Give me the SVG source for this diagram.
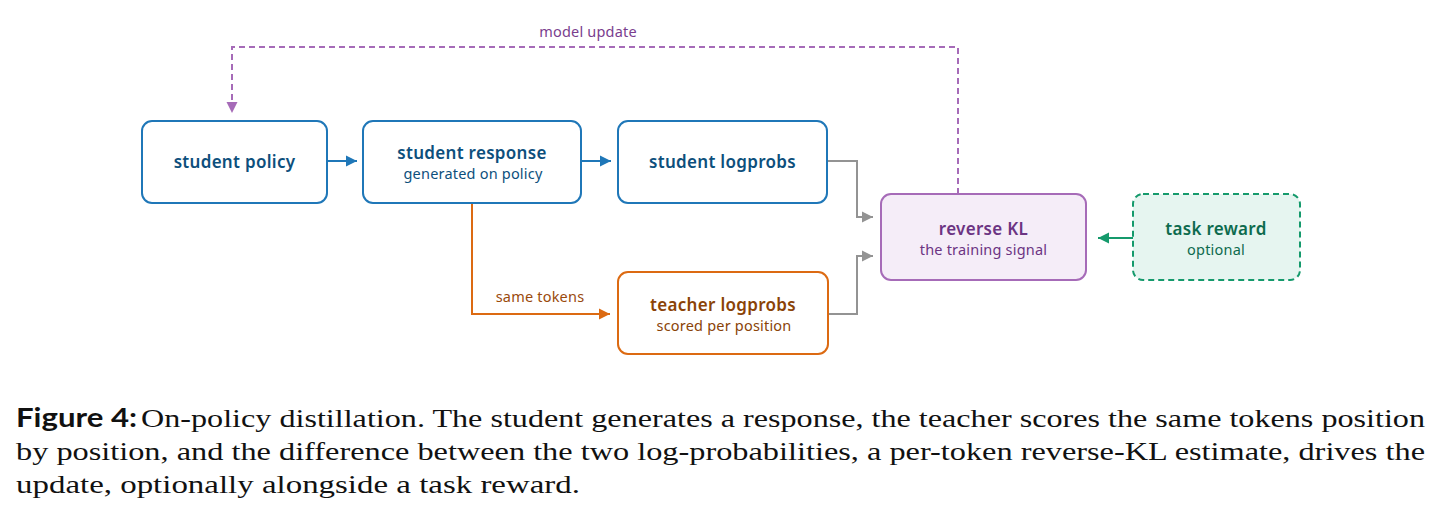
<svg xmlns="http://www.w3.org/2000/svg" width="1442" height="524" viewBox="0 0 1442 524">
<style>
.t{font-family:"Noto Sans","Liberation Sans",sans-serif;font-weight:600;font-size:17px;letter-spacing:0.3px;text-anchor:middle}
.s{font-family:"Noto Sans","Liberation Sans",sans-serif;font-size:14.5px;letter-spacing:0.2px;text-anchor:middle}
.lbl{font-family:"Noto Sans","Liberation Sans",sans-serif;font-size:14.5px;letter-spacing:0.2px;text-anchor:middle}
.cap{font-family:"Liberation Serif",serif;font-size:26px;fill:#111}
.capb{font-family:"Lato","Liberation Sans",sans-serif;font-weight:700;font-size:26px;fill:#111}
.blue{fill:#fff;stroke:#1f77b8;stroke-width:2}
.orange{fill:#fff;stroke:#dc6a12;stroke-width:2}
</style>
<defs>
<marker id="aBlue" markerUnits="userSpaceOnUse" markerWidth="12" markerHeight="12" refX="11" refY="6" orient="auto"><path d="M0,0.5 L11,6 L0,11.5 Z" fill="#1f77b8"/></marker>
<marker id="aOrange" markerUnits="userSpaceOnUse" markerWidth="12" markerHeight="12" refX="11" refY="6" orient="auto"><path d="M0,0.5 L11,6 L0,11.5 Z" fill="#dc6a12"/></marker>
<marker id="aGray" markerUnits="userSpaceOnUse" markerWidth="12" markerHeight="12" refX="11" refY="6" orient="auto"><path d="M0,0.5 L11,6 L0,11.5 Z" fill="#939393"/></marker>
<marker id="aPurple" markerUnits="userSpaceOnUse" markerWidth="12" markerHeight="12" refX="11" refY="6" orient="auto"><path d="M0,0.5 L11,6 L0,11.5 Z" fill="#a66bb8"/></marker>
<marker id="aGreen" markerUnits="userSpaceOnUse" markerWidth="12" markerHeight="12" refX="11" refY="6" orient="auto"><path d="M0,0.5 L11,6 L0,11.5 Z" fill="#159a6c"/></marker>
</defs>
<rect width="1442" height="524" fill="#fff"/>
<g id="connectors" fill="none" stroke-width="2">
<line x1="327" y1="161" x2="357" y2="161" stroke="#1f77b8" marker-end="url(#aBlue)"/>
<line x1="581" y1="161" x2="611" y2="161" stroke="#1f77b8" marker-end="url(#aBlue)"/>
<polyline points="827,161 857,161 857,217 873,217" stroke="#939393" marker-end="url(#aGray)"/>
<polyline points="828,314 857,314 857,256 873,256" stroke="#939393" marker-end="url(#aGray)"/>
<polyline points="472,203 472,314 610,314" stroke="#dc6a12" marker-end="url(#aOrange)"/>
<polyline points="958,194 958,47 232,47 232,113" stroke="#a66bb8" stroke-dasharray="6,4" marker-end="url(#aPurple)"/>
<line x1="1133" y1="238" x2="1098" y2="238" stroke="#159a6c" marker-end="url(#aGreen)"/>
<text class="lbl" x="588" y="37" fill="#7a3e8e">model update</text>
<text class="lbl" x="540" y="302" fill="#9a4a0c">same tokens</text>
</g>
<g id="student-policy">
<rect class="blue" x="142" y="121" width="185" height="82" rx="10"/>
<text class="t" x="234.5" y="168" fill="#0d4f7c">student policy</text>
</g>
<g id="student-response">
<rect class="blue" x="363" y="121" width="218" height="82" rx="10"/>
<text class="t" x="472" y="159" fill="#0d4f7c">student response</text>
<text class="s" x="473" y="179" fill="#0d4f7c">generated on policy</text>
</g>
<g id="student-logprobs">
<rect class="blue" x="618" y="121" width="209" height="82" rx="10"/>
<text class="t" x="722.5" y="168" fill="#0d4f7c">student logprobs</text>
</g>
<g id="teacher-logprobs">
<rect class="orange" x="618" y="272" width="210" height="82" rx="10"/>
<text class="t" x="723" y="311" fill="#8a4307">teacher logprobs</text>
<text class="s" x="724" y="331" fill="#8a4307">scored per position</text>
</g>
<g id="reverse-kl">
<rect x="881" y="194" width="205" height="86" rx="10" fill="#f5edf8" stroke="#a66bb8" stroke-width="2"/>
<text class="t" x="983.5" y="235" fill="#6c3483">reverse KL</text>
<text class="s" x="983.5" y="255" fill="#6c3483">the training signal</text>
</g>
<g id="task-reward">
<rect x="1133" y="194" width="167" height="86" rx="10" fill="#e6f5f0" stroke="#159a6c" stroke-width="2" stroke-dasharray="6,4"/>
<text class="t" x="1216" y="235" fill="#0d6b4e">task reward</text>
<text class="s" x="1216" y="255" fill="#0d6b4e">optional</text>
</g>
<g id="caption">
<text class="capb" x="16" y="427" textLength="121" lengthAdjust="spacingAndGlyphs">Figure 4:</text>
<text class="cap" x="141" y="427" textLength="1284" lengthAdjust="spacingAndGlyphs">On-policy distillation. The student generates a response, the teacher scores the same tokens position</text>
<text class="cap" x="16" y="460" textLength="1409" lengthAdjust="spacingAndGlyphs">by position, and the difference between the two log-probabilities, a per-token reverse-KL estimate, drives the</text>
<text class="cap" x="16" y="493" textLength="564" lengthAdjust="spacingAndGlyphs">update, optionally alongside a task reward.</text>
</g>
</svg>
